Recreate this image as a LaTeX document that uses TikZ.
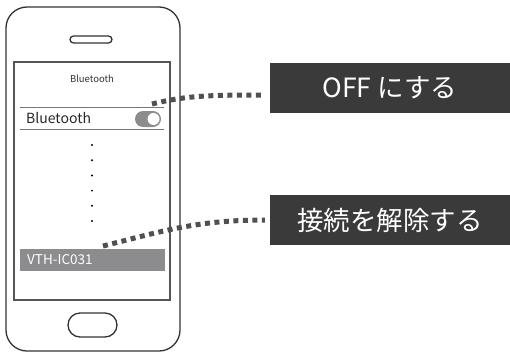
\documentclass[tikz,border=0pt]{standalone}
\usepackage{fontspec}
\setmainfont{Noto Sans CJK JP}
\definecolor{phoneline}{HTML}{333333}
\definecolor{screenline}{HTML}{555555}
\definecolor{barfill}{HTML}{8C8C8E}
\definecolor{labelfill}{HTML}{3A3A3A}
\definecolor{dotcol}{HTML}{505050}
\tikzset{
  phone/.style={draw=phoneline, line width=1.3pt},
  scr/.style={draw=screenline, line width=1.2pt},
  sep/.style={draw=screenline!80, line width=1pt},
  labelbox/.style={fill=labelfill, text=white, minimum width=240pt, minimum height=50pt, inner sep=0pt, font=\fontsize{26.5}{26.5}\selectfont},
  dotline/.style={draw=dotcol, line width=5pt, dash pattern=on 5pt off 4.5pt},
}
\begin{document}
\begin{tikzpicture}[x=1pt,y=-1pt]
\useasboundingbox (0,0) rectangle (510,353);
% phone body
\draw[phone, rounded corners=21pt] (6,7) rectangle (180,351);
\draw[phone, rounded corners=3.5pt] (70,36) rectangle (112,43);
\draw[phone, rounded corners=12pt] (68,313) rectangle (117,337);
% screen
\draw[scr] (14,62) rectangle (170,300);
\node[font=\fontsize{9.5}{9.5}\selectfont, text=black!80] (title) at (92,79) {Bluetooth};
\draw[sep] (20,107) -- (164,107);
\draw[sep] (20,129) -- (164,129);
\node[anchor=west, font=\fontsize{14}{14}\selectfont, text=black!85, inner sep=0pt] (bt) at (26,118) {Bluetooth};
\fill[barfill, rounded corners=8pt] (135,111) rectangle (161,127);
\fill[white] (153.5,119) circle (6pt);
\coordinate (tog) at (152,104);
\foreach \yy in {145,160.2,175.4,190.6,205.8,221} \fill[black] (92,\yy) circle (1.1pt);
\fill[barfill] (20,249) rectangle (165,271);
\node[anchor=west, font=\fontsize{13.5}{13.5}\selectfont, text=white, inner sep=0pt] (dev) at (27,260) {VTH-IC031};
\coordinate (devpt) at (103,246);
% labels
\node[labelbox] (off) at (390,88) {OFF にする};
\node[labelbox] (disc) at (390,220) {接続を解除する};
% connectors
\draw[dotline] (tog) .. controls (185,96) and (205,95) .. ([xshift=-5pt,yshift=-7pt]off.west);
\draw[dotline] (devpt) .. controls (160,232) and (195,220) .. ([xshift=-5pt]disc.west);
\end{tikzpicture}
\end{document}
